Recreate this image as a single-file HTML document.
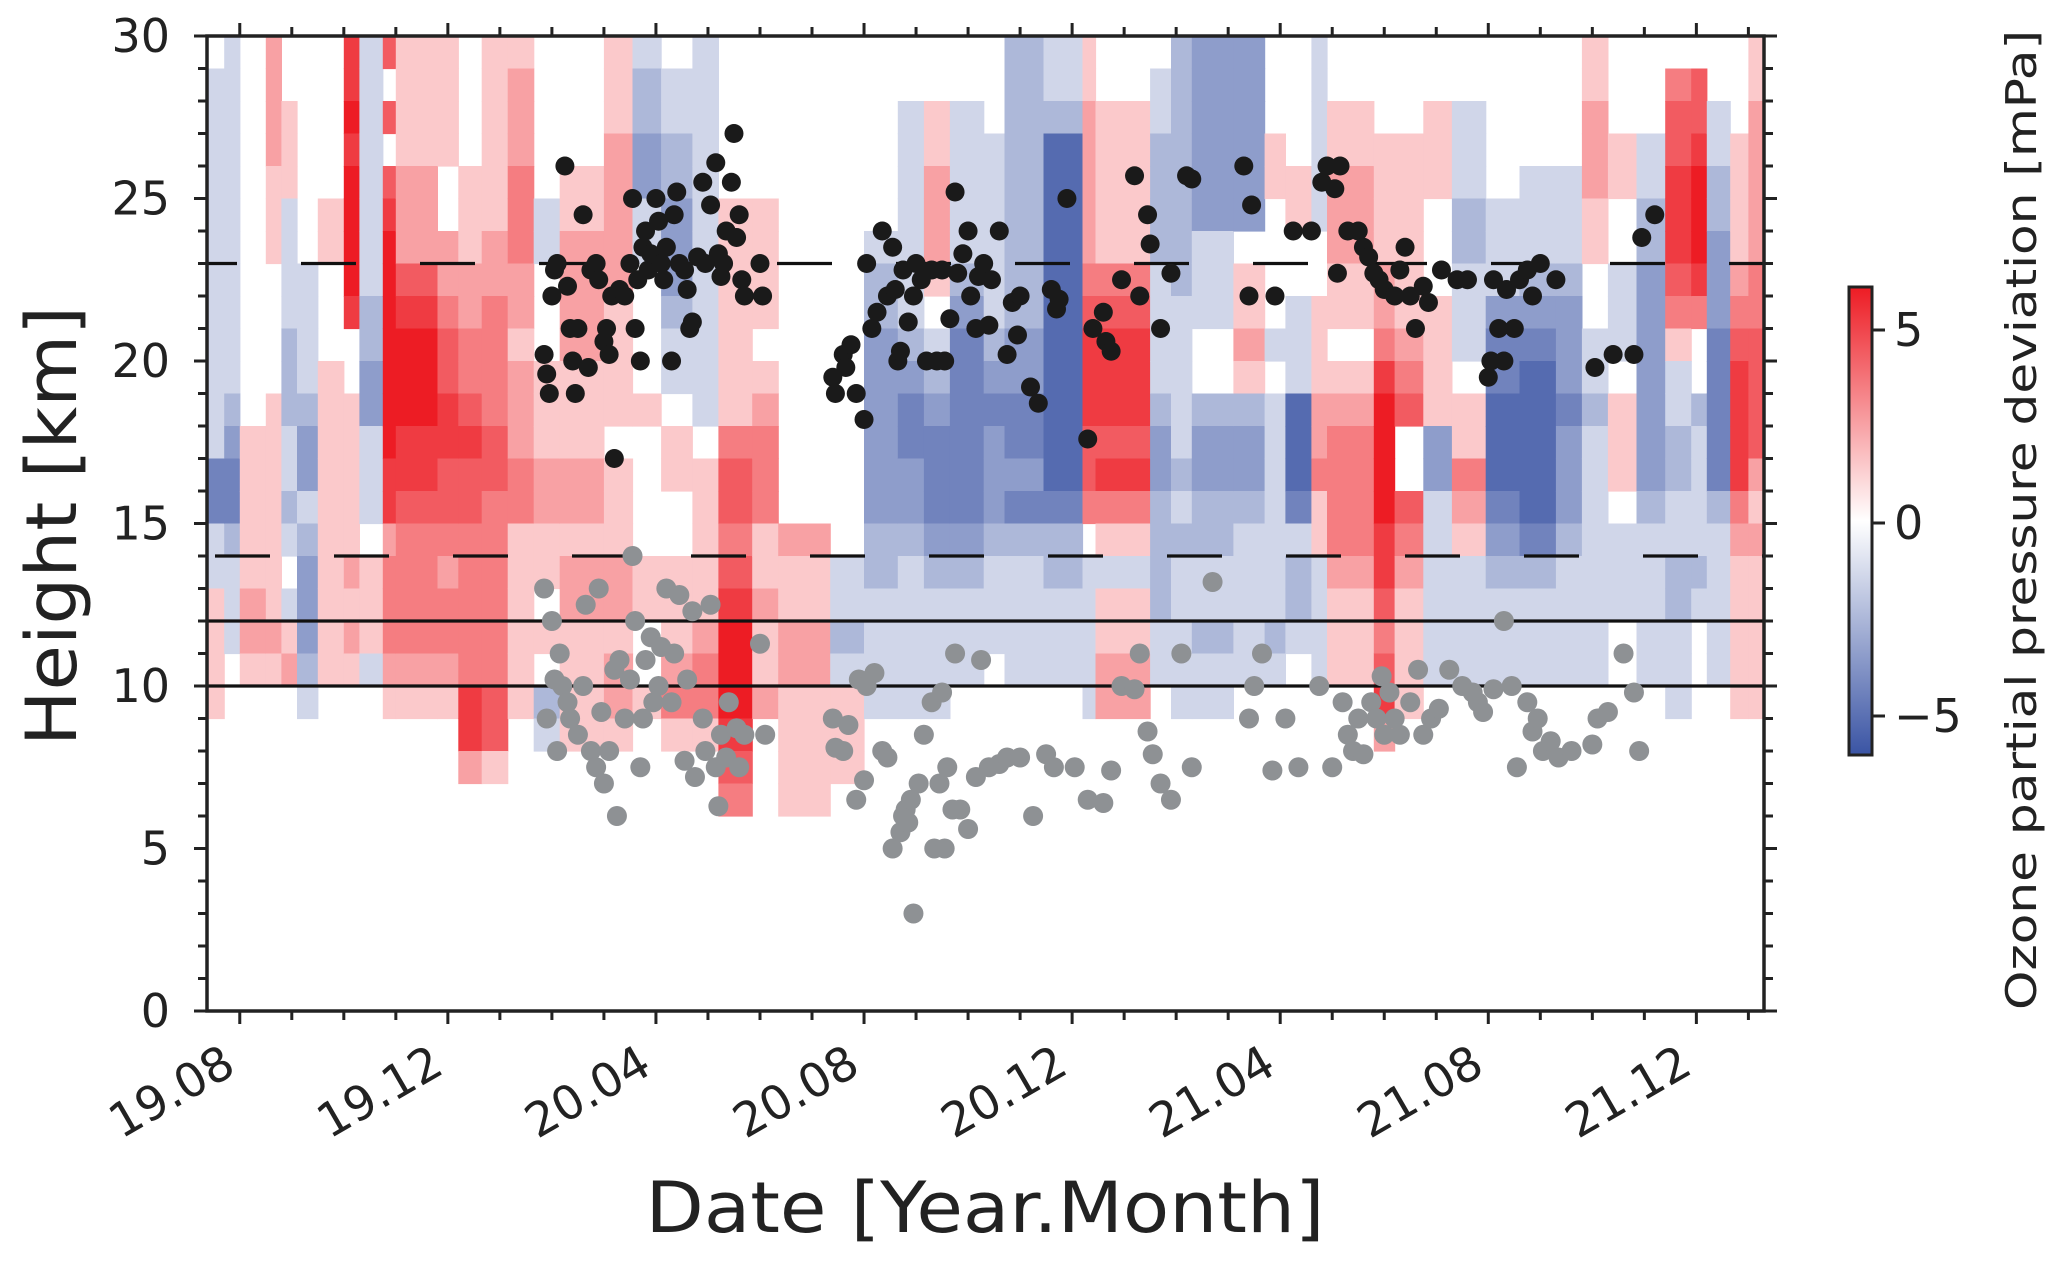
<!DOCTYPE html>
<html><head><meta charset="utf-8"><style>
html,body{margin:0;padding:0;background:#fff;}
svg{display:block;font-family:"DejaVu Sans","Liberation Sans",sans-serif;}
</style></head><body>
<svg id="chart" width="2067" height="1262" viewBox="0 0 2067 1262" xmlns="http://www.w3.org/2000/svg">
<defs><clipPath id="plotclip"><rect x="207" y="36" width="1557" height="975"/></clipPath>
<linearGradient id="cbgrad" x1="0" y1="1" x2="0" y2="0">
<stop offset="0" stop-color="rgb(58,84,164)"/><stop offset="0.5" stop-color="#fff"/><stop offset="1" stop-color="rgb(237,28,36)"/></linearGradient></defs>
<g id="heat" clip-path="url(#plotclip)"></g>
<g id="lines"></g>
<g id="dots" clip-path="url(#plotclip)"></g>
<g id="axes"></g>
<g>
<rect x="1849" y="287" width="23" height="468" fill="url(#cbgrad)" stroke="#222" stroke-width="3"/>
</g>
<g id="cbticks"></g>
<text x="0" y="0" transform="translate(76,526) rotate(-90)" text-anchor="middle" font-size="70" fill="#222" textLength="440" lengthAdjust="spacingAndGlyphs">Height [km]</text>
<text x="985" y="1232" text-anchor="middle" font-size="70" fill="#222" textLength="679" lengthAdjust="spacingAndGlyphs">Date [Year.Month]</text>
<text x="0" y="0" transform="translate(2036,520) rotate(-90)" text-anchor="middle" font-size="42" fill="#222" textLength="980" lengthAdjust="spacingAndGlyphs">Ozone partial pressure deviation [mPa]</text>
</svg>
<script>
const colStarts=[-0.63,-0.3,0,0.5,0.8,1.1,1.5,2.0,2.3,2.75,3.0,3.8,4.2,4.65,5.15,5.65,6.15,7.0,7.55,8.1,8.7,9.2,9.85,10.35,11.35,12.0,12.65,13.15,13.65,14.3,14.7,15.45,16.2,16.45,17.5,17.9,18.3,19.1,19.7,20.1,20.6,20.9,21.8,22.2,22.75,23.3,23.95,24.6,25.3,25.8,26.3,26.85,27.4,27.9,28.2,28.65,29.0];
const colEnd=29.3;
const profiles=[
"GFFFFFFFFFFFFCCFFHHHHGGGGGGGGG","FFFFFFFFFFFEDCCEFFFGGGGGGGGGGG","GGGGGGGGGGGGHHHHHIIHGGGGGGGGGG","IIIIHHHGGGGHHHHHHHIHGGGGGGGGGG",
"GGHHHFFFFEEEFFEFGFHIGGGGGGGGGG","GGGGGGGFFFFEDDFEDDDEFGGGGGGGGG","GGGGGHHGGGHHHHHHHHHHGGGGGGGGGG","LLMLMMMMLGGHHHHHIHIHGGGGGGGGGG",
"FFFFFFFFEEDDFFFGHHHFGGGGGGGGGG","KGKGKLMMMMMMMLLIJJJIHGGGGGGGGG","HHHHIIIKLMMMLLKJJJJIHGGGGGGGGG","HHHHGGIIJKKLLKKJIJJIHGGGGGGGGG",
"GGGGHHHIIJJKLKKJJJJJLLIGGGGGGG","HHHHHHIIJJJJKKJJJJJJKKHGGGGGGG","HIIIJJJIIHIIIJJHHHHHHGGGGGGGGG","GGGGGFFGGGHHHIIHHGHGEFGGGGGGGG",
"GGGGHHIIIIHHHIIHIIHHHHGGGGGGGG","HHHIIIIIHHHHGHHHIIHIIHGGGGGGGG","FEEDDFFGGGGHGGGGHHGGHGGGGGGGGG","GFFEEDDDEFFGHHGGHHHIJHGGGGGGGG",
"FFFFFFFFFFFFGHHHHHIJJHGGGGGGGG","GGGGGHHHHHHHJKKJKLMMMLKJGGGGGG","GGGGGHHHHGHIJJJHHIHHIGGGGGGGGG","...............IHHIIHHHHGGGGGG",
"...............GFFEFHHHGGGGGGG","......FEEDDDDDDEEFFFFGGGGGGGGG","..FFFFFFFEDCCDDEFFFFFGGGGGGGGG","..HHIIIHGFEDCCCDEFFFFGGGGGGGGG",
"..FFFFFEDCCCCCCDEFFFGGGGGGGGGG","..GFFFFFFEDCDDDEFFFGGGGGGGGGGG","EEEEEEEEEDDCCDCEFFFFGGGGGGGGGG","FFEBBBBBBBBBBBCEEFFFGGGGGGGGGG",
"HHIIIIIJKLLLKKJGFFFFFGGGGGGGGG","GGHHHHHJKLLLKLJHFHHIIGGGGGGGGG","GFFEEEEFFFFEDDEEEEFFGGGGGGGGGG","EEEEEEEEFFFFFEFEFFFFFGGGGGGGGG",
"DDDDDDFFFGGEDDEEFFEFFGGGGGGGGG","DDDDDDGHHIHEDDEFFFFFGGGGGGGGGG","GGGHHGGGGFGFFFFFFFEFGGGGGGGGGG","GGGGHHGGFFFBBBCFEEFGGGGGGGGGGG",
"FFFFFFGGHHHIIJHHFFFFGGGGGGGGGG","GGHHIIIHHGHIJJJJIHHHGGGGGGGGGG","GGGHHHHIIJLMMMMLLKJKLIGGGGGGGG","GGGHHHHHHIJKGGKJIHHHHGGGGGGGGG",
"GGHHHGGGHHHHDDFFFFFFGGGGGGGGGG","GGFFFEEFFFGHHJIHFFFFGGGGGGGGGG","GGGGGFFFDCCBBBCDEFFFGGGGGGGGGG","GGGGFFFEDCBBBBBCEFFFGGGGGGGGGG",
"GGGGFFFEDDDCDDDEFFFFGGGGGGGGGG","HHIIIHHGGFFEFFFFFFFFGGGGGGGGGG","GGGHHGGFFFGHHHGFFFGGGGGGGGGGGG","GGGFFEEDDDDDDDEFFFFFGGGGGGGGGG",
"GJKKLLLKJHFFEEFFEEFFFGGGGGGGGG","GKKLMMMLJGGEFFFFEFGGGGGGGGGGGG","GGFFEEDDDCCCCCEFFFFFGGGGGGGGGG","GGGHHHHIJKLLLLJIHHHHHGGGGGGGGG",
"HHIIIIIJJKKKKIHIHHHHHGGGGGGGGG"];
const blackM=[5.85,5.9,5.95,6.0,6.05,6.1,6.25,6.3,6.35,6.4,6.45,6.5,6.6,6.7,6.75,6.85,6.9,7.0,7.05,7.1,7.15,7.2,7.3,7.4,7.5,7.55,7.6,7.65,7.7,7.75,7.8,7.85,7.9,8.0,8.05,8.1,8.15,8.2,8.3,8.35,8.4,8.45,8.55,8.6,8.65,8.7,8.8,8.9,8.95,9.05,9.15,9.2,9.25,9.3,9.35,9.45,9.5,9.55,9.6,9.65,9.7,10.0,10.05,11.4,11.45,11.6,11.65,11.75,11.85,12.0,12.05,12.15,12.25,12.35,12.45,12.55,12.6,12.65,12.7,12.75,12.85,12.95,13.0,13.1,13.2,13.3,13.4,13.5,13.55,13.65,13.75,13.8,13.9,14.0,14.05,14.15,14.2,14.3,14.4,14.45,14.6,14.75,14.85,14.95,15.0,15.2,15.35,15.6,15.7,15.75,15.9,16.3,16.4,16.6,16.65,16.75,16.95,17.2,17.3,17.45,17.5,17.7,17.9,18.2,18.3,19.3,19.4,19.45,19.9,20.25,20.6,20.8,20.9,21.05,21.1,21.15,21.3,21.5,21.6,21.7,21.8,21.9,22.0,22.2,22.3,22.4,22.5,22.6,22.75,22.85,23.1,23.4,23.6,24.0,24.05,24.1,24.2,24.3,24.35,24.5,24.6,24.75,24.85,25.0,25.3,26.05,26.4,26.8,26.95,27.2];
const blackH=[20.2,19.6,19.0,22.0,22.8,23.0,26.0,22.3,21.0,20.0,19.0,21.0,24.5,19.8,22.8,23.0,22.5,20.6,21.0,20.2,22.0,17.0,22.2,22.0,23.0,25.0,21.0,22.5,20.0,23.5,24.0,22.8,23.3,25.0,24.3,23.0,22.5,23.5,20.0,24.5,25.2,23.0,22.8,22.2,21.0,21.2,23.2,25.5,23.0,24.8,26.1,23.3,22.6,23.0,24.0,25.5,27.0,23.8,24.5,22.5,22.0,23.0,22.0,19.5,19.0,20.2,19.8,20.5,19.0,18.2,23.0,21.0,21.5,24.0,22.0,23.5,22.2,20.0,20.3,22.8,21.2,22.0,23.0,22.5,20.0,22.8,20.0,22.8,20.0,21.3,25.2,22.7,23.3,24.0,22.0,21.0,22.6,23.0,21.1,22.5,24.0,20.2,21.8,20.8,22.0,19.2,18.7,22.2,21.6,21.9,25.0,17.6,21.0,21.5,20.6,20.3,22.5,25.7,22.0,24.5,23.6,21.0,22.7,25.7,25.6,26.0,22.0,24.8,22.0,24.0,24.0,25.5,26.0,25.3,22.7,26.0,24.0,24.0,23.5,23.2,22.7,22.5,22.2,22.0,22.8,23.5,22.0,21.0,22.3,21.8,22.8,22.5,22.5,19.5,20.0,22.5,21.0,20.0,22.2,21.0,22.5,22.8,22.0,23.0,22.5,19.8,20.2,20.2,23.8,24.5];
const grayM=[5.85,5.9,6.0,6.05,6.1,6.15,6.2,6.3,6.35,6.5,6.6,6.65,6.75,6.85,6.9,6.95,7.0,7.1,7.2,7.25,7.3,7.4,7.5,7.55,7.6,7.7,7.75,7.8,7.9,7.95,8.05,8.1,8.2,8.3,8.35,8.45,8.55,8.6,8.7,8.75,8.9,8.95,9.05,9.15,9.2,9.25,9.35,9.4,9.55,9.6,9.7,10.0,10.1,11.4,11.45,11.6,11.7,11.85,11.9,12.0,12.05,12.2,12.35,12.45,12.55,12.7,12.75,12.8,12.85,12.9,12.95,13.05,13.15,13.35,13.45,13.55,13.6,13.7,13.3,13.5,13.75,13.85,14.0,14.15,14.25,14.4,14.6,14.75,15.0,15.25,15.5,15.65,16.05,16.3,16.6,16.75,16.95,17.2,17.3,17.45,17.55,17.7,17.9,18.1,18.3,18.7,19.4,19.5,19.65,19.85,20.1,20.35,20.75,21.0,21.2,21.3,21.4,21.5,21.6,21.75,21.85,21.95,22.0,22.1,22.2,22.3,22.5,22.65,22.75,22.9,23.05,23.25,23.5,23.7,23.8,23.9,24.1,24.3,24.45,24.55,24.75,24.85,24.95,25.05,25.2,25.35,25.6,26.0,26.1,26.3,26.6,26.8,26.9];
const grayH=[13.0,9.0,12.0,10.2,8.0,11.0,10.0,9.5,9.0,8.5,10.0,12.5,8.0,7.5,13.0,9.2,7.0,8.0,10.5,6.0,10.8,9.0,10.2,14.0,12.0,7.5,9.0,10.8,11.5,9.5,10.0,11.2,13.0,9.5,11.0,12.8,7.7,10.2,12.3,7.2,9.0,8.0,12.5,7.5,6.3,8.5,7.8,9.5,8.7,7.5,8.5,11.3,8.5,9.0,8.1,8.0,8.8,6.5,10.2,7.1,10.0,10.4,8.0,7.8,5.0,5.5,6.0,6.2,5.8,6.5,3.0,7.0,8.5,5.0,7.0,5.0,7.5,6.2,9.5,9.8,11.0,6.2,5.6,7.2,10.8,7.5,7.6,7.8,7.8,6.0,7.9,7.5,7.5,6.5,6.4,7.4,10.0,9.9,11.0,8.6,7.9,7.0,6.5,11.0,7.5,13.2,9.0,10.0,11.0,7.4,9.0,7.5,10.0,7.5,9.5,8.5,8.0,9.0,7.9,9.5,9.0,10.3,8.5,9.8,9.0,8.5,9.5,10.5,8.5,9.0,9.3,10.5,10.0,9.8,9.5,9.2,9.9,12.0,10.0,7.5,9.5,8.6,9.0,8.0,8.3,7.8,8.0,8.2,9.0,9.2,11.0,9.8,8.0];
const solidLevels=[12,10];
const dashedLevels=[23,14];
const xTickMonths=[0,4,8,12,16,20,24,28];
const xTickLabels=["19.08","19.12","20.04","20.08","20.12","21.04","21.08","21.12"];
const yTickValues=[0,5,10,15,20,25,30];
const cbTickValues=[5,0,-5];

const NS="http://www.w3.org/2000/svg";
const L=207,R=1764,T=36,B=1011,XMIN=-0.63,XMAX=29.3,YMAX=30;
const X=m=>L+(m-XMIN)*(R-L)/(XMAX-XMIN);
const Y=h=>B-h*(B-T)/YMAX;
const CB=v=>523-v*38.6;
function mk(tag,attrs,parent){const e=document.createElementNS(NS,tag);for(const k in attrs)e.setAttribute(k,attrs[k]);parent.appendChild(e);return e;}
function color(v){const t=Math.pow(Math.min(Math.abs(v)/6,1),0.8);const end=v<0?[58,84,164]:[237,28,36];
return `rgb(${Math.round(255+(end[0]-255)*t)},${Math.round(255+(end[1]-255)*t)},${Math.round(255+(end[2]-255)*t)})`;}

const heat=document.getElementById('heat');
for(let i=0;i<colStarts.length;i++){
  const x0=X(colStarts[i]),x1=X(i+1<colStarts.length?colStarts[i+1]:colEnd);
  const p=profiles[i];
  for(let j=0;j<30;j++){
    const c=p[j];if(!c||c==='.'||c==='G')continue;
    const v=c.charCodeAt(0)-71;
    const r=mk('rect',{x:x0.toFixed(1),y:Y(30-j).toFixed(1),width:(x1-x0+0.6).toFixed(1),height:(Y(29-j)-Y(30-j)+0.6).toFixed(1),fill:color(v)},heat);
    
    
  }
}
const lines=document.getElementById('lines');
solidLevels.forEach(h=>{const l=mk('line',{x1:L,x2:R,y1:Y(h),y2:Y(h),stroke:'#111','stroke-width':3.3},lines);

});
dashedLevels.forEach((h,k)=>{const l=mk('line',{x1:L,x2:R,y1:Y(h),y2:Y(h),stroke:'#111','stroke-width':3.3,'stroke-dasharray':'55 64','stroke-dashoffset':k?-8:25},lines);

});
const dots=document.getElementById('dots');
grayM.forEach((m,i)=>{const c=mk('circle',{cx:X(m),cy:Y(grayH[i]),r:10,fill:'#8e9194'},dots);

});
blackM.forEach((m,i)=>{const c=mk('circle',{cx:X(m),cy:Y(blackH[i]),r:9.5,fill:'#1a1a1a'},dots);

});

const axes=document.getElementById('axes');
const frame=mk('rect',{x:L,y:T,width:R-L,height:B-T,fill:'none',stroke:'#222','stroke-width':3.5},axes);


for(let m=0;m<=29;m++){const major=m%4===0;const len=major?13:9;
 const x=X(m);
 const t1=mk('line',{x1:x,x2:x,y1:B,y2:B+len,stroke:'#222','stroke-width':3},axes);
 
 
 const t2=mk('line',{x1:x,x2:x,y1:T,y2:T-len,stroke:'#222','stroke-width':3},axes);
 
 }
for(let h=0;h<=30;h++){const major=h%5===0;const len=major?13:9;const y=Y(h);
 const a=mk('line',{x1:L-len,x2:L,y1:y,y2:y,stroke:'#222','stroke-width':3},axes);
 
 
 const b=mk('line',{x1:R,x2:R+len,y1:y,y2:y,stroke:'#222','stroke-width':3},axes);
 
 }
yTickValues.forEach(v=>{const t=mk('text',{x:170,y:Y(v)+16,'text-anchor':'end','font-size':46,fill:'#222'},axes);t.textContent=v;

});
xTickMonths.forEach((m,i)=>{const x=X(m)-2;const y=1072;
 const t=mk('text',{x:0,y:0,transform:`translate(${x},${y}) rotate(-30)`,'text-anchor':'end','font-size':47,fill:'#222'},axes);
 t.textContent=xTickLabels[i];
 
 });
const cbt=document.getElementById('cbticks');
cbTickValues.forEach(v=>{const y=CB(v);
 const l=mk('line',{x1:1872,x2:1885,y1:y,y2:y,stroke:'#222','stroke-width':3},cbt);
 
 
 const t=mk('text',{x:1894,y:y+16,'font-size':46,fill:'#222'},cbt);
 t.textContent=v<0?'\u2212'+Math.abs(v):String(v);
 
 });
</script>
</body></html>
